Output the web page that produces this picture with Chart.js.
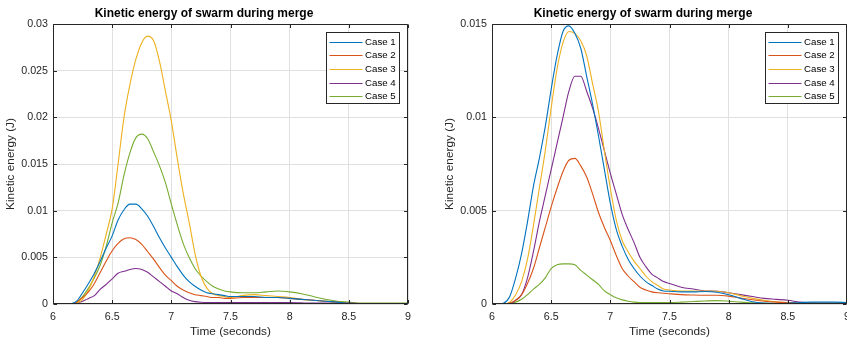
<!DOCTYPE html>
<html>
<head>
<meta charset="utf-8">
<script src="https://cdn.jsdelivr.net/npm/chart.js@4.4.1/dist/chart.umd.min.js"></script>
<style>
  html, body { margin: 0; padding: 0; background: #fff; overflow: hidden; }
  body { width: 847px; height: 340px; position: relative; }
  canvas { position: absolute; top: 0; }
  #left { left: 0; }
  #right { left: 439px; }
</style>
</head>
<body>
<canvas id="left" width="420" height="340"></canvas>
<canvas id="right" width="420" height="340"></canvas>
<script>
// --- data ---
const times = [6.00, 6.05, 6.10, 6.15, 6.20, 6.25, 6.30, 6.35, 6.40, 6.45, 6.50, 6.55, 6.60, 6.65, 6.70, 6.75,
  6.80, 6.85, 6.90, 6.95, 7.00, 7.05, 7.10, 7.15, 7.20, 7.25, 7.30, 7.35, 7.40, 7.45, 7.50,
  7.6, 7.7, 7.8, 7.9, 8.0, 8.1, 8.2, 8.3, 8.4, 8.5, 8.6, 8.7, 8.8, 8.9, 9.0];

const caseNames = ["Case 1", "Case 2", "Case 3", "Case 4", "Case 5"];
const caseColors = ["#0072BD", "#D95319", "#EDB120", "#7E2F8E", "#77AC30"];

// left plot
const leftCase1 = [0, 0, 0, 0.00003, 0.0003, 0.0012, 0.0022, 0.0033, 0.0046, 0.0060, 0.0073, 0.0090, 0.0101, 0.0107, 0.0107, 0.0102,
  0.0094, 0.0083, 0.0071, 0.0060, 0.0050, 0.0040, 0.0031, 0.0024, 0.0019, 0.0015, 0.0012, 0.0011, 0.0010, 0.0009, 0.0008,
  0.0008, 0.0008, 0.0007, 0.0007, 0.0006, 0.0005, 0.0004, 0.0003, 0.0002, 0.0001, 0.00005, 0.00005, 0.00005, 0.00005, 0.00005];
const leftCase2 = [0, 0, 0, 0.00002, 0.0002, 0.0007, 0.0013, 0.0022, 0.0034, 0.0046, 0.0057, 0.0065, 0.0070, 0.0071, 0.0069, 0.0064,
  0.0056, 0.0048, 0.0039, 0.0031, 0.0025, 0.0019, 0.0015, 0.0012, 0.0010, 0.0009, 0.0008, 0.0007, 0.0007, 0.0006, 0.0006,
  0.0007, 0.0007, 0.0007, 0.0007, 0.0006, 0.0005, 0.0004, 0.0003, 0.0002, 0.0001, 0.00005, 0.00005, 0.00005, 0.00005, 0.00005];
const leftCase3 = [0, 0, 0, 0.00002, 0.0001, 0.0005, 0.0015, 0.0030, 0.0050, 0.0075, 0.0102, 0.0150, 0.0200, 0.0235, 0.0262, 0.0280,
  0.0287, 0.0282, 0.0260, 0.0228, 0.0196, 0.0156, 0.0119, 0.0088, 0.0054, 0.0030, 0.0017, 0.0011, 0.0009, 0.0008, 0.0007,
  0.0009, 0.0010, 0.0009, 0.0008, 0.0007, 0.0005, 0.0004, 0.0003, 0.0002, 0.0001, 0.00005, 0.00005, 0.00005, 0.00005, 0.00005];
const leftCase4 = [0, 0, 0, 0, 0.0001, 0.0003, 0.0006, 0.0009, 0.0016, 0.0021, 0.0027, 0.0033, 0.0035, 0.0037, 0.0038, 0.0037,
  0.0034, 0.0029, 0.0024, 0.0019, 0.0014, 0.0011, 0.0007, 0.0004, 0.00025, 0.00018, 0.00015, 0.00015, 0.00015, 0.00015, 0.00015,
  0.00015, 0.00015, 0.00015, 0.00015, 0.00015, 0.00012, 0.0001, 0.0001, 0.0001, 0.00008, 0.00005, 0.00005, 0.00005, 0.00005, 0.00005];
const leftCase5 = [0, 0, 0, 0.00002, 0.0002, 0.0008, 0.0017, 0.0028, 0.0042, 0.0062, 0.0087, 0.0108, 0.0138, 0.0162, 0.0178, 0.0182,
  0.0177, 0.0163, 0.0148, 0.0130, 0.0107, 0.0085, 0.0065, 0.0050, 0.0038, 0.0030, 0.0024, 0.0019, 0.0016, 0.0014, 0.0013,
  0.0012, 0.0012, 0.0013, 0.0014, 0.0013, 0.0011, 0.0008, 0.0005, 0.0003, 0.0002, 0.0001, 0.0001, 0.0001, 0.0001, 0.0001];

// right plot
const rightCase1 = [0, 0, 0.00005, 0.0004, 0.0014, 0.0027, 0.0044, 0.0063, 0.0078, 0.0095, 0.0115, 0.0133, 0.0146, 0.0149, 0.0145, 0.0137,
  0.0122, 0.0107, 0.0090, 0.0072, 0.0054, 0.0040, 0.0031, 0.0024, 0.0019, 0.0015, 0.0012, 0.0010, 0.0008, 0.0007, 0.00068,
  0.00065, 0.00065, 0.00067, 0.00063, 0.0005, 0.0003, 0.00012, 0.00005, 0.00003, 0.00004, 0.00008, 0.0001, 0.0001, 0.0001, 0.00008];
const rightCase2 = [0, 0, 0, 0.00005, 0.0002, 0.0005, 0.0011, 0.0019, 0.0030, 0.0041, 0.0052, 0.0062, 0.0071, 0.0077, 0.0078, 0.0074,
  0.0068, 0.0059, 0.0049, 0.0041, 0.0034, 0.0026, 0.0019, 0.0015, 0.0012, 0.0009, 0.00075, 0.00065, 0.0006, 0.00058, 0.00055,
  0.0005, 0.00048, 0.00047, 0.00047, 0.00042, 0.00032, 0.00023, 0.00015, 0.0001, 0.00007, 0.00004, 0.00004, 0.00004, 0.00004, 0.00004];
const rightCase3 = [0, 0, 0, 0.0001, 0.0005, 0.0012, 0.0024, 0.0042, 0.0062, 0.0082, 0.0105, 0.0126, 0.0140, 0.0146, 0.0145, 0.0141,
  0.0133, 0.0118, 0.0103, 0.0082, 0.0062, 0.0045, 0.0034, 0.0028, 0.0023, 0.0019, 0.0015, 0.0012, 0.0010, 0.0008, 0.00075,
  0.0007, 0.0007, 0.0007, 0.00068, 0.0006, 0.00045, 0.0003, 0.0002, 0.00012, 0.00008, 0.00005, 0.00005, 0.00005, 0.00005, 0.00005];
const rightCase4 = [0, 0, 0, 0, 0.0002, 0.0005, 0.0014, 0.0028, 0.0044, 0.0058, 0.0072, 0.0086, 0.0100, 0.0114, 0.0122, 0.0122,
  0.0114, 0.0105, 0.0094, 0.0082, 0.0070, 0.0059, 0.0048, 0.0040, 0.0033, 0.0025, 0.0020, 0.0016, 0.0014, 0.0012, 0.0011,
  0.0009, 0.0008, 0.0007, 0.00068, 0.0006, 0.0005, 0.0004, 0.0003, 0.00025, 0.0002, 0.0001, 0.00005, 0.00004, 0.00003, 0.00003];
const rightCase5 = [0, 0, 0, 0.00005, 0.0001, 0.00025, 0.0005, 0.0008, 0.00105, 0.0014, 0.0019, 0.0021, 0.00215, 0.00215, 0.0021, 0.0018,
  0.00155, 0.0013, 0.00105, 0.0007, 0.0005, 0.00033, 0.00022, 0.00015, 0.0001, 0.00008, 0.00008, 0.00008, 0.00008, 0.00008, 0.00008,
  0.0001, 0.00013, 0.00016, 0.00018, 0.00015, 0.0001, 0.00006, 0.00004, 0.00004, 0.00004, 0.00004, 0.00004, 0.00004, 0.00004, 0.00004];

const xTicks = [6, 6.5, 7, 7.5, 8, 8.5, 9];
const leftYMax = 0.03;
const rightYMax = 0.015;
const yStep = 0.005;

const FONT = 'Arial, "Liberation Sans", Helvetica, sans-serif';
const AXIS = '#262626';

// caixa MATLAB: moldura, ticks para dentro e legenda
const matlabBox = {
  id: 'matlabBox',
  afterDraw(chart) {
    const { ctx, chartArea: a, scales: { x, y } } = chart;
    const L = Math.round(a.left) + 0.5, R = Math.round(a.right) - 0.5;
    const T = Math.round(a.top) + 0.5, B = Math.round(a.bottom) - 0.5;
    const tl = 3.5;
    ctx.save();
    ctx.strokeStyle = AXIS;
    ctx.lineWidth = 1;
    ctx.beginPath();
    x.ticks.forEach(t => {
      const px = Math.round(x.getPixelForValue(t.value)) + 0.5;
      ctx.moveTo(px, B); ctx.lineTo(px, B - tl);
      ctx.moveTo(px, T); ctx.lineTo(px, T + tl);
    });
    y.ticks.forEach(t => {
      const py = Math.round(y.getPixelForValue(t.value)) + 0.5;
      ctx.moveTo(L, py); ctx.lineTo(L + tl, py);
      ctx.moveTo(R, py); ctx.lineTo(R - tl, py);
    });
    ctx.rect(L, T, R - L, B - T);
    ctx.stroke();

    // legenda
    const w = 73, h = 71;
    const bx = Math.round(a.right - 9 - w) + 0.5, by = Math.round(a.top + 8) + 0.5;
    ctx.fillStyle = '#fff';
    ctx.fillRect(bx, by, w, h);
    ctx.strokeStyle = AXIS;
    ctx.strokeRect(bx, by, w, h);
    ctx.font = '9.7px ' + FONT;
    ctx.textBaseline = 'middle';
    ctx.textAlign = 'left';
    chart.data.datasets.forEach((ds, i) => {
      const ry = Math.round(by + 9 + i * 13.7) + 0.5;
      ctx.strokeStyle = ds.borderColor;
      ctx.lineWidth = 1.2;
      ctx.beginPath();
      ctx.moveTo(bx + 3, ry); ctx.lineTo(bx + 36, ry);
      ctx.stroke();
      ctx.fillStyle = '#000';
      ctx.fillText(ds.label, bx + 38.5, ry);
    });
    ctx.restore();
  }
};

function makeChart(id, series, yMax) {
  const ctx = document.getElementById(id).getContext('2d');
  return new Chart(ctx, {
    type: 'line',
    data: {
      datasets: series.map((s, i) => ({
        label: caseNames[i],
        data: times.map((t, k) => ({ x: t, y: s[k] })),
        borderColor: caseColors[i],
        borderWidth: 1.1,
        pointRadius: 0,
        fill: false,
        cubicInterpolationMode: 'monotone'
      }))
    },
    options: {
      responsive: false,
      animation: false,
      devicePixelRatio: 1,
      layout: { padding: { left: 0, right: 12, top: 0, bottom: 0 } },
      plugins: {
        legend: { display: false },
        tooltip: { enabled: false },
        title: {
          display: true,
          text: 'Kinetic energy of swarm during merge',
          color: '#000',
          font: { family: FONT, size: 12, weight: 'bold' },
          padding: { top: 6.8, bottom: 2.8 }
        }
      },
      scales: {
        x: {
          type: 'linear',
          min: 6, max: 9,
          afterFit: s => { s.height = 36; },
          afterBuildTicks: s => { s.ticks = xTicks.map(v => ({ value: v })); },
          grid: { color: '#e0e0e0', drawTicks: false },
          border: { display: false },
          ticks: {
            color: AXIS, padding: 6.6,
            font: { family: FONT, size: 10.7 },
            maxRotation: 0,
            callback: v => String(+v.toFixed(2))
          },
          title: {
            display: true, text: 'Time (seconds)', color: AXIS,
            font: { family: FONT, size: 11.8 },
            padding: { top: 0, bottom: 1 }
          }
        },
        y: {
          min: 0, max: yMax,
          afterFit: s => { s.width = 53; },
          grid: { color: '#e0e0e0', drawTicks: false },
          border: { display: false },
          ticks: {
            stepSize: yStep, color: AXIS, padding: 5,
            font: { family: FONT, size: 10.7 },
            callback: v => String(+v.toFixed(4))
          },
          title: {
            display: true, text: 'Kinetic energy (J)', color: AXIS,
            font: { family: FONT, size: 11.8 },
            padding: { top: 4, bottom: 0 }
          }
        }
      }
    },
    plugins: [matlabBox]
  });
}

makeChart('left', [leftCase1, leftCase2, leftCase3, leftCase4, leftCase5], leftYMax);
makeChart('right', [rightCase1, rightCase2, rightCase3, rightCase4, rightCase5], rightYMax);
</script>
</body>
</html>
